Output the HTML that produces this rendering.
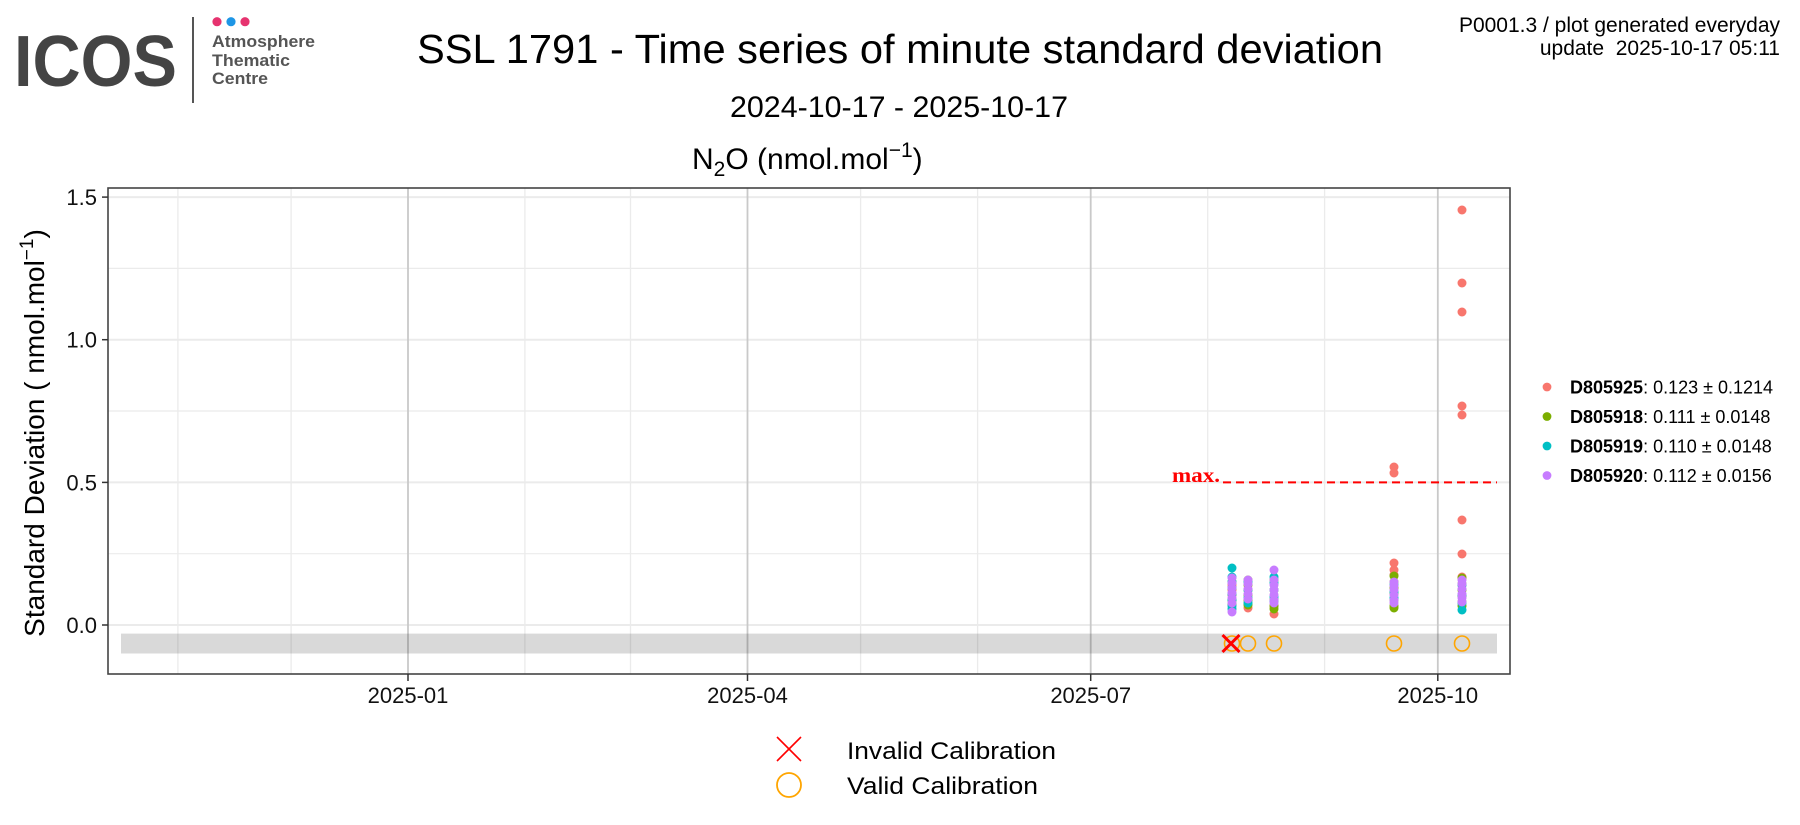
<!DOCTYPE html>
<html>
<head>
<meta charset="utf-8">
<style>
html,body{margin:0;padding:0;background:#fff;}
body{width:1800px;height:825px;overflow:hidden;}
svg{display:block;font-family:"Liberation Sans",Arial,sans-serif;}
</style>
</head>
<body>
<svg width="1800" height="825" viewBox="0 0 1800 825" xmlns="http://www.w3.org/2000/svg">
<rect x="0" y="0" width="1800" height="825" fill="#fff"/>

<!-- Logo -->
<text x="14" y="86" font-size="72" font-weight="bold" fill="#444" textLength="163" lengthAdjust="spacingAndGlyphs">ICOS</text>
<line x1="193" y1="17" x2="193" y2="103" stroke="#555" stroke-width="2"/>
<circle cx="217" cy="21.7" r="4.6" fill="#E6336F"/>
<circle cx="231" cy="21.7" r="4.6" fill="#1E96E6"/>
<circle cx="245" cy="21.7" r="4.6" fill="#E6336F"/>
<text x="212" y="47" font-size="17" font-weight="bold" fill="#555" textLength="103" lengthAdjust="spacingAndGlyphs">Atmosphere</text>
<text x="212" y="66" font-size="17" font-weight="bold" fill="#555" textLength="78" lengthAdjust="spacingAndGlyphs">Thematic</text>
<text x="212" y="84" font-size="17" font-weight="bold" fill="#555" textLength="56" lengthAdjust="spacingAndGlyphs">Centre</text>

<!-- Titles -->
<text x="417" y="63" font-size="41" fill="#000" textLength="966" lengthAdjust="spacingAndGlyphs">SSL 1791 - Time series of minute standard deviation</text>
<text x="730" y="117" font-size="30" fill="#000" textLength="338" lengthAdjust="spacingAndGlyphs">2024-10-17 - 2025-10-17</text>
<text x="692" y="169" font-size="30" fill="#000">N<tspan font-size="21" dy="7">2</tspan><tspan dy="-7">O (nmol.mol</tspan><tspan font-size="21" dy="-12">−1</tspan><tspan dy="12">)</tspan></text>

<!-- Top right -->
<text x="1780" y="32" font-size="21" fill="#000" text-anchor="end">P0001.3 / plot generated everyday</text>
<text x="1780" y="55" font-size="21" fill="#000" text-anchor="end" xml:space="preserve">update  2025-10-17 05:11</text>

<!-- Panel grid -->
<g>
  <line x1="108" x2="1510" y1="553.7" y2="553.7" stroke="#EBEBEB" stroke-width="1.2"/>
  <line x1="108" x2="1510" y1="411" y2="411" stroke="#EBEBEB" stroke-width="1.2"/>
  <line x1="108" x2="1510" y1="268.4" y2="268.4" stroke="#EBEBEB" stroke-width="1.2"/>
  <line x1="108" x2="1510" y1="625" y2="625" stroke="#EBEBEB" stroke-width="2"/>
  <line x1="108" x2="1510" y1="482.4" y2="482.4" stroke="#EBEBEB" stroke-width="2"/>
  <line x1="108" x2="1510" y1="339.7" y2="339.7" stroke="#EBEBEB" stroke-width="2"/>
  <line x1="108" x2="1510" y1="197.1" y2="197.1" stroke="#EBEBEB" stroke-width="2"/>
  <line y1="188" y2="674" x1="177.9" x2="177.9" stroke="#EBEBEB" stroke-width="1.3"/>
  <line y1="188" y2="674" x1="291.1" x2="291.1" stroke="#EBEBEB" stroke-width="1.3"/>
  <line y1="188" y2="674" x1="524.9" x2="524.9" stroke="#EBEBEB" stroke-width="1.3"/>
  <line y1="188" y2="674" x1="630.5" x2="630.5" stroke="#EBEBEB" stroke-width="1.3"/>
  <line y1="188" y2="674" x1="860.6" x2="860.6" stroke="#EBEBEB" stroke-width="1.3"/>
  <line y1="188" y2="674" x1="977.6" x2="977.6" stroke="#EBEBEB" stroke-width="1.3"/>
  <line y1="188" y2="674" x1="1207.7" x2="1207.7" stroke="#EBEBEB" stroke-width="1.3"/>
  <line y1="188" y2="674" x1="1324.6" x2="1324.6" stroke="#EBEBEB" stroke-width="1.3"/>
  <line y1="188" y2="674" x1="408" x2="408" stroke="#C9C9C9" stroke-width="1.8"/>
  <line y1="188" y2="674" x1="747.5" x2="747.5" stroke="#C9C9C9" stroke-width="1.8"/>
  <line y1="188" y2="674" x1="1090.7" x2="1090.7" stroke="#C9C9C9" stroke-width="1.8"/>
  <line y1="188" y2="674" x1="1437.8" x2="1437.8" stroke="#C9C9C9" stroke-width="1.8"/>
</g>

<!-- gray band -->
<rect x="121" y="633.6" width="1376" height="19.9" fill="#000" fill-opacity="0.15"/>

<!-- max line -->
<line x1="1223" y1="482.4" x2="1497" y2="482.4" stroke="#FF0000" stroke-width="2" stroke-dasharray="8 5"/>
<text x="1172" y="482" font-family="'Liberation Serif',serif" font-size="21" font-weight="bold" fill="#FF0000" textLength="48" lengthAdjust="spacingAndGlyphs">max.</text>

<!-- points -->
<g fill="#F8766D">
  <circle cx="1232" cy="585" r="4.5"/><circle cx="1232" cy="590" r="4.5"/><circle cx="1232" cy="595" r="4.5"/><circle cx="1232" cy="600" r="4.5"/>
  <circle cx="1248" cy="600" r="4.5"/><circle cx="1248" cy="604" r="4.5"/><circle cx="1248" cy="608" r="4.5"/>
  <circle cx="1274" cy="600" r="4.5"/><circle cx="1274" cy="606" r="4.5"/><circle cx="1274" cy="614" r="4.5"/>
  <circle cx="1394" cy="467" r="4.5"/><circle cx="1394" cy="473" r="4.5"/><circle cx="1394" cy="563" r="4.5"/><circle cx="1394" cy="570" r="4.5"/><circle cx="1394" cy="575" r="4.5"/>
  <circle cx="1462" cy="210" r="4.5"/><circle cx="1462" cy="283" r="4.5"/><circle cx="1462" cy="312" r="4.5"/><circle cx="1462" cy="406" r="4.5"/><circle cx="1462" cy="415" r="4.5"/><circle cx="1462" cy="520" r="4.5"/><circle cx="1462" cy="554" r="4.5"/><circle cx="1462" cy="577" r="4.5"/><circle cx="1462" cy="585" r="4.5"/>
</g>
<g fill="#7CAE00">
  <circle cx="1232" cy="582" r="4.5"/><circle cx="1232" cy="588" r="4.5"/><circle cx="1232" cy="594" r="4.5"/><circle cx="1232" cy="600" r="4.5"/><circle cx="1232" cy="604" r="4.5"/>
  <circle cx="1248" cy="580" r="4.5"/><circle cx="1248" cy="585" r="4.5"/><circle cx="1248" cy="590" r="4.5"/><circle cx="1248" cy="595" r="4.5"/><circle cx="1248" cy="600" r="4.5"/><circle cx="1248" cy="605" r="4.5"/>
  <circle cx="1274" cy="580" r="4.5"/><circle cx="1274" cy="590" r="4.5"/><circle cx="1274" cy="600" r="4.5"/><circle cx="1274" cy="606" r="4.5"/><circle cx="1274" cy="609" r="4.5"/>
  <circle cx="1394" cy="576" r="4.5"/><circle cx="1394" cy="582" r="4.5"/><circle cx="1394" cy="588" r="4.5"/><circle cx="1394" cy="594" r="4.5"/><circle cx="1394" cy="600" r="4.5"/><circle cx="1394" cy="606" r="4.5"/><circle cx="1394" cy="608" r="4.5"/>
  <circle cx="1462" cy="578" r="4.5"/><circle cx="1462" cy="584" r="4.5"/><circle cx="1462" cy="590" r="4.5"/><circle cx="1462" cy="596" r="4.5"/><circle cx="1462" cy="602" r="4.5"/><circle cx="1462" cy="606" r="4.5"/>
</g>
<g fill="#00BFC4">
  <circle cx="1232" cy="568" r="4.5"/><circle cx="1232" cy="577" r="4.5"/><circle cx="1232" cy="582" r="4.5"/><circle cx="1232" cy="588" r="4.5"/><circle cx="1232" cy="594" r="4.5"/><circle cx="1232" cy="600" r="4.5"/><circle cx="1232" cy="606" r="4.5"/><circle cx="1232" cy="609" r="4.5"/>
  <circle cx="1248" cy="582" r="4.5"/><circle cx="1248" cy="590" r="4.5"/><circle cx="1248" cy="598" r="4.5"/><circle cx="1248" cy="603" r="4.5"/>
  <circle cx="1274" cy="577" r="4.5"/><circle cx="1274" cy="583" r="4.5"/><circle cx="1274" cy="590" r="4.5"/><circle cx="1274" cy="597" r="4.5"/><circle cx="1274" cy="601" r="4.5"/>
  <circle cx="1394" cy="585" r="4.5"/><circle cx="1394" cy="592" r="4.5"/><circle cx="1394" cy="598" r="4.5"/>
  <circle cx="1462" cy="585" r="4.5"/><circle cx="1462" cy="595" r="4.5"/><circle cx="1462" cy="603" r="4.5"/><circle cx="1462" cy="610" r="4.5"/>
</g>
<g fill="#C77CFF">
  <circle cx="1232" cy="578" r="4.5"/><circle cx="1232" cy="583" r="4.5"/><circle cx="1232" cy="588" r="4.5"/><circle cx="1232" cy="593" r="4.5"/><circle cx="1232" cy="598" r="4.5"/><circle cx="1232" cy="603" r="4.5"/><circle cx="1232" cy="612" r="4.5"/>
  <circle cx="1248" cy="580" r="4.5"/><circle cx="1248" cy="584" r="4.5"/><circle cx="1248" cy="589" r="4.5"/><circle cx="1248" cy="594" r="4.5"/><circle cx="1248" cy="599" r="4.5"/>
  <circle cx="1274" cy="570" r="4.5"/><circle cx="1274" cy="580" r="4.5"/><circle cx="1274" cy="585" r="4.5"/><circle cx="1274" cy="590" r="4.5"/><circle cx="1274" cy="595" r="4.5"/><circle cx="1274" cy="600" r="4.5"/><circle cx="1274" cy="603" r="4.5"/>
  <circle cx="1394" cy="582" r="4.5"/><circle cx="1394" cy="586" r="4.5"/><circle cx="1394" cy="590" r="4.5"/><circle cx="1394" cy="595" r="4.5"/><circle cx="1394" cy="600" r="4.5"/><circle cx="1394" cy="603" r="4.5"/>
  <circle cx="1462" cy="580" r="4.5"/><circle cx="1462" cy="584" r="4.5"/><circle cx="1462" cy="589" r="4.5"/><circle cx="1462" cy="594" r="4.5"/><circle cx="1462" cy="598" r="4.5"/><circle cx="1462" cy="602" r="4.5"/>
</g>

<!-- calibration markers -->
<g fill="none" stroke="#FFA500" stroke-width="1.6">
  <circle cx="1232" cy="643.5" r="7.5"/>
  <circle cx="1248" cy="643.5" r="7.5"/>
  <circle cx="1274" cy="643.5" r="7.5"/>
  <circle cx="1394" cy="643.5" r="7.5"/>
  <circle cx="1462" cy="643.5" r="7.5"/>
</g>
<g stroke="#FF0000" stroke-width="3">
  <line x1="1222.5" y1="635" x2="1239.5" y2="652"/>
  <line x1="1239.5" y1="635" x2="1222.5" y2="652"/>
</g>

<!-- panel border -->
<rect x="108" y="188" width="1402" height="486" fill="none" stroke="#444" stroke-width="1.6"/>

<!-- ticks -->
<g stroke="#333" stroke-width="1.5">
  <line x1="102" x2="108" y1="625" y2="625"/>
  <line x1="102" x2="108" y1="482.4" y2="482.4"/>
  <line x1="102" x2="108" y1="339.7" y2="339.7"/>
  <line x1="102" x2="108" y1="197.1" y2="197.1"/>
  <line x1="408" x2="408" y1="674" y2="681"/>
  <line x1="747.5" x2="747.5" y1="674" y2="681"/>
  <line x1="1090.7" x2="1090.7" y1="674" y2="681"/>
  <line x1="1437.8" x2="1437.8" y1="674" y2="681"/>
</g>
<g font-size="22" fill="#111" text-anchor="end">
  <text x="97" y="633">0.0</text>
  <text x="97" y="490.4">0.5</text>
  <text x="97" y="347.7">1.0</text>
  <text x="97" y="205.1">1.5</text>
</g>
<g font-size="22" fill="#111" text-anchor="middle">
  <text x="408" y="703">2025-01</text>
  <text x="747.5" y="703">2025-04</text>
  <text x="1090.7" y="703">2025-07</text>
  <text x="1437.8" y="703">2025-10</text>
</g>

<!-- y axis title -->
<text transform="translate(44,433) rotate(-90)" font-size="28" fill="#000" text-anchor="middle">Standard Deviation ( nmol.mol<tspan font-size="19" dy="-11">−1</tspan><tspan dy="11">)</tspan></text>

<!-- right legend -->
<g font-size="18" fill="#000">
  <circle cx="1547" cy="387" r="4.4" fill="#F8766D"/>
  <text x="1570" y="393.5"><tspan font-weight="bold">D805925</tspan>: 0.123 ± 0.1214</text>
  <circle cx="1547" cy="416.5" r="4.4" fill="#7CAE00"/>
  <text x="1570" y="423"><tspan font-weight="bold">D805918</tspan>: 0.111 ± 0.0148</text>
  <circle cx="1547" cy="446" r="4.4" fill="#00BFC4"/>
  <text x="1570" y="452.5"><tspan font-weight="bold">D805919</tspan>: 0.110 ± 0.0148</text>
  <circle cx="1547" cy="475.5" r="4.4" fill="#C77CFF"/>
  <text x="1570" y="482"><tspan font-weight="bold">D805920</tspan>: 0.112 ± 0.0156</text>
</g>

<!-- bottom legend -->
<g stroke="#FF0000" stroke-width="1.6">
  <line x1="777" y1="737" x2="801" y2="761"/>
  <line x1="801" y1="737" x2="777" y2="761"/>
</g>
<circle cx="789" cy="785" r="12" fill="none" stroke="#FFA500" stroke-width="1.8"/>
<text x="847" y="759" font-size="24" fill="#000" textLength="209" lengthAdjust="spacingAndGlyphs">Invalid Calibration</text>
<text x="847" y="794" font-size="24" fill="#000" textLength="191" lengthAdjust="spacingAndGlyphs">Valid Calibration</text>
</svg>
</body>
</html>
